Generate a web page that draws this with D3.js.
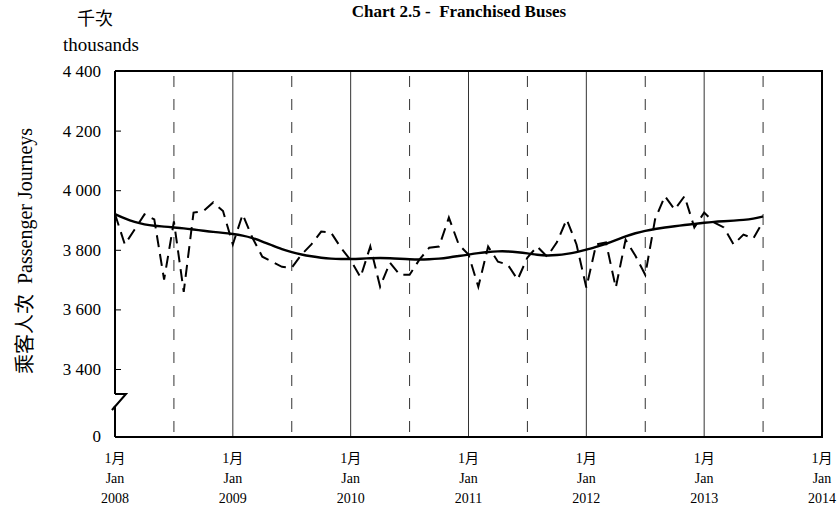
<!DOCTYPE html>
<html><head><meta charset="utf-8">
<script src="https://cdn.jsdelivr.net/npm/d3@7"></script>
<style>
body{margin:0;background:#fff;}
svg{display:block;}
text{font-family:"Liberation Serif","Times New Roman","Noto Sans CJK TC",serif;fill:#000;}
</style></head><body>
<svg id="c" width="839" height="505"></svg>
<script>
// ---- data (thousands of passenger journeys, monthly Jan 2008 - Jul 2013) ----
const startYear = 2008;
const monthly = [
 3920,3818,3868,3919,3902,3700,3895,3659,3925,3930,3959,3930,
 3818,3919,3840,3777,3760,3743,3740,3784,3818,3861,3858,3807,
 3765,3708,3811,3676,3757,3716,3716,3767,3807,3811,3908,3818,
 3784,3676,3811,3760,3750,3700,3774,3811,3777,3825,3902,3818,
 3673,3818,3825,3673,3834,3780,3716,3902,3980,3935,3980,3875,
 3925,3892,3875,3818,3851,3838,3895
];
const trend = [
 3920,3905,3893,3885,3880,3878,3875,3872,3868,3864,3860,3857,
 3853,3848,3840,3828,3815,3802,3792,3784,3778,3773,3770,3769,
 3769,3770,3772,3773,3772,3770,3768,3767,3768,3770,3774,3779,
 3784,3789,3793,3795,3795,3792,3788,3783,3780,3782,3786,3792,
 3800,3810,3820,3832,3845,3856,3864,3870,3875,3879,3883,3887,
 3891,3894,3896,3898,3900,3904,3912
];
const yTicks = [3400,3600,3800,4000,4200,4400];
const yearLabels = ["2008","2009","2010","2011","2012","2013","2014"];
const title = "Chart 2.5 -  Franchised Buses";

// ---- layout ----
const L=115, R=822, T=71, B=437;
const svg = d3.select("#c");
const x = d3.scaleLinear().domain([0,72]).range([L,R]);
const y = d3.scaleLinear().domain([3400,4400]).range([369,T]);

// gridlines: solid at each Jan, dashed at each Jul
const years = d3.range(0,73,12);
const mids = d3.range(6,72,12);
svg.append("g").selectAll("line").data(years.slice(1,-1)).join("line")
  .attr("x1",d=>x(d)).attr("x2",d=>x(d)).attr("y1",T).attr("y2",B)
  .attr("stroke","#333").attr("stroke-width",1);
svg.append("g").selectAll("line").data(mids).join("line")
  .attr("x1",d=>x(d)).attr("x2",d=>x(d)).attr("y1",T+5).attr("y2",B)
  .attr("stroke","#333").attr("stroke-width",1).attr("stroke-dasharray","11,12");

// data lines
const idx = d3.range(monthly.length);
svg.append("path").datum(idx)
  .attr("d", d3.line().x(i=>x(i)).y(i=>y(monthly[i])))
  .attr("fill","none").attr("stroke","#000").attr("stroke-width",2)
  .attr("stroke-dasharray","12,7");
svg.append("path").datum(idx)
  .attr("d", d3.line().x(i=>x(i)).y(i=>y(trend[i])).curve(d3.curveBasis))
  .attr("fill","none").attr("stroke","#000").attr("stroke-width",2.4);

// frame
svg.append("path").attr("d",`M${L},${T}H${R}V${B}H${L}`)
  .attr("fill","none").attr("stroke","#000").attr("stroke-width",2);
// left axis with break
svg.append("path").attr("d",`M${L},${T}V394 M${L},394 L126,394 L112,410 L${L},406 M${L},406 V${B}`)
  .attr("fill","none").attr("stroke","#000").attr("stroke-width",2);

// y axis ticks and labels
const fmt = v => d3.format(",")(v).replace(/,/g," ");
const ya = svg.append("g").attr("transform",`translate(${L},0)`)
  .call(d3.axisLeft(y).tickValues(yTicks).tickFormat(fmt).tickSizeInner(-6).tickSizeOuter(0).tickPadding(14));
ya.select(".domain").remove();
ya.selectAll(".tick line").attr("stroke","#000").attr("stroke-width",1);
ya.selectAll(".tick text").attr("font-size",17).style("font-family",'"Liberation Serif",serif');
svg.append("text").attr("x",L-14).attr("y",B).attr("dy","0.32em")
  .attr("text-anchor","end").attr("font-size",17).text("0");

// x labels
const xl = svg.append("g").selectAll("g").data(years).join("g")
  .attr("transform",d=>`translate(${x(d)},0)`);
xl.append("text").attr("y",458).attr("dy","0.35em").attr("text-anchor","middle")
  .attr("font-size",14).text("1月");
xl.append("text").attr("y",478).attr("dy","0.35em").attr("text-anchor","middle")
  .attr("font-size",14).text("Jan");
xl.append("text").attr("y",498).attr("dy","0.35em").attr("text-anchor","middle")
  .attr("font-size",14).text((d,i)=>yearLabels[i]);

// titles
svg.append("text").attr("x",459).attr("y",17).attr("text-anchor","middle")
  .attr("font-size",17).attr("font-weight","bold").style("white-space","pre").text(title);
svg.append("text").attr("x",95).attr("y",19).attr("dy","0.35em").attr("text-anchor","middle")
  .attr("font-size",18).text("千次");
svg.append("text").attr("x",101).attr("y",44).attr("dy","0.35em").attr("text-anchor","middle")
  .attr("font-size",19).text("thousands");
svg.append("text").attr("transform","translate(25,251) rotate(-90)")
  .attr("text-anchor","middle").attr("dy","0.35em").attr("font-size",20)
  .style("white-space","pre").text("乘客人次  Passenger Journeys");
</script>
</body></html>
